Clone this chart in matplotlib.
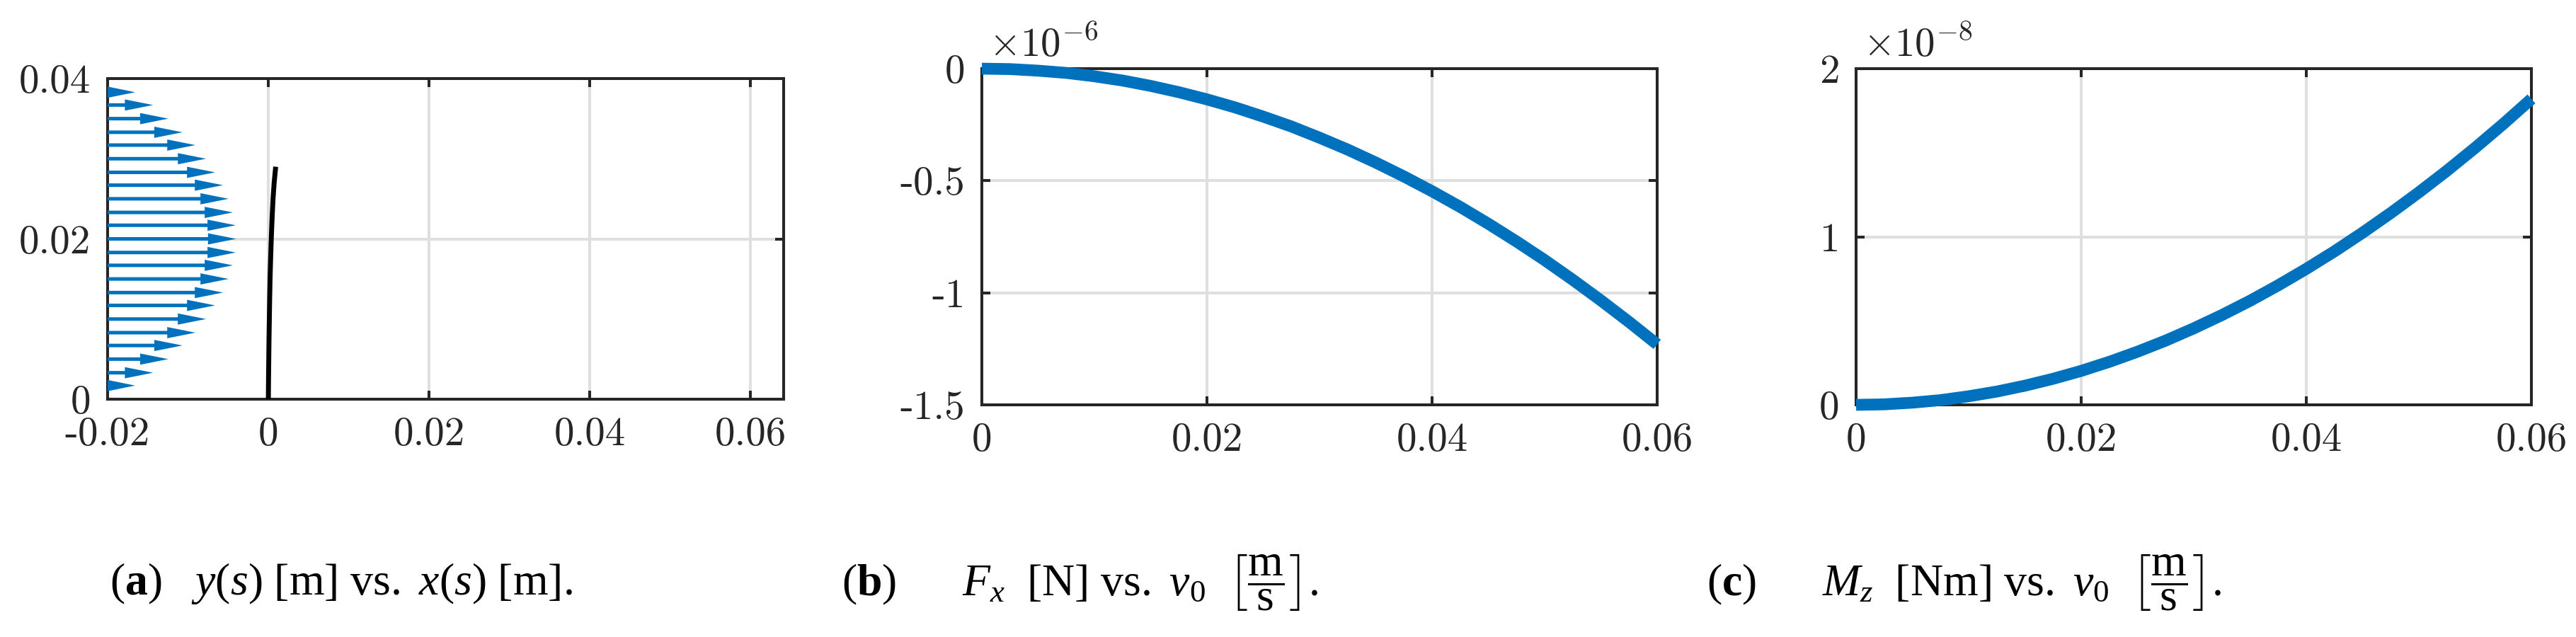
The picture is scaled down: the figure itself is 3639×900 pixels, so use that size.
import matplotlib
matplotlib.use("Agg")
import matplotlib.pyplot as plt

# ------------------ SETTINGS ------------------
W, H = 3639, 900
BLUE = "#0072BD"
GRID = "#dfdfdf"
AXC = "#262626"
TICK_FS = 41
CAP_FS = 46

plt.rcParams["mathtext.fontset"] = "cm"
plt.rcParams["mathtext.rm"] = "Liberation Serif"
plt.rcParams["mathtext.it"] = "Liberation Serif:italic"
plt.rcParams["mathtext.bf"] = "Liberation Serif:bold"
plt.rcParams["axes.unicode_minus"] = False

# ------------------ DATA ------------------
# (a) inflow profile arrows + deflected beam
arrow_y = [0.0017, 0.0033, 0.0050, 0.0067, 0.0083, 0.0100, 0.0117, 0.0133,
           0.0150, 0.0167, 0.0183, 0.0200, 0.0217, 0.0233, 0.0250, 0.0267,
           0.0283, 0.0300, 0.0317, 0.0333, 0.0350, 0.0367, 0.0383]
arrow_u = [0.00343, 0.00565, 0.00755, 0.00931, 0.01092, 0.01224, 0.01338, 0.01435,
           0.01505, 0.01558, 0.01593, 0.01599, 0.01593, 0.01558, 0.01505, 0.01435,
           0.01338, 0.01224, 0.01092, 0.00931, 0.00755, 0.00565, 0.00343]
arrow_x0 = -0.02

beam_x = [0, 0.00002, 0.00005, 0.00008, 0.00012, 0.00016, 0.00021, 0.00028,
          0.00036, 0.00046, 0.00058, 0.00072, 0.00091]
beam_y = [0, 0.0025, 0.005, 0.0075, 0.010, 0.0125, 0.015, 0.0175,
          0.020, 0.0225, 0.025, 0.027, 0.029]

# (b) Fx [1e-6 N] vs v0
v0 = [0, 0.0025, 0.005, 0.0075, 0.010, 0.0125, 0.015, 0.0175, 0.020, 0.0225,
      0.025, 0.0275, 0.030, 0.0325, 0.035, 0.0375, 0.040, 0.0425, 0.045, 0.0475,
      0.050, 0.0525, 0.055, 0.0575, 0.060]
Fx = [0, -0.002, -0.009, -0.019, -0.034, -0.053, -0.077, -0.105, -0.137, -0.173,
      -0.214, -0.258, -0.308, -0.361, -0.419, -0.481, -0.547, -0.617, -0.692, -0.771,
      -0.854, -0.942, -1.034, -1.130, -1.230]

# (c) Mz [1e-8 Nm] vs v0
Mz = [0, 0.003, 0.013, 0.028, 0.051, 0.079, 0.114, 0.155, 0.202, 0.256,
      0.316, 0.382, 0.455, 0.534, 0.619, 0.711, 0.809, 0.913, 1.024, 1.141,
      1.264, 1.393, 1.529, 1.671, 1.820]

# tick labels
a_xticks = [-0.02, 0, 0.02, 0.04, 0.06]
a_xlabels = ["-0.02", "0", "0.02", "0.04", "0.06"]
a_yticks = [0, 0.02, 0.04]
a_ylabels = ["0", "0.02", "0.04"]
v_ticks = [0, 0.02, 0.04, 0.06]
v_labels = ["0", "0.02", "0.04", "0.06"]
b_yticks = [-1.5, -1, -0.5, 0]
b_ylabels = ["-1.5", "-1", "-0.5", "0"]
c_yticks = [0, 1, 2]
c_ylabels = ["0", "1", "2"]

captions = [
    r"$(\mathbf{a})\quad y(s)\ [\mathrm{m}]\ \mathrm{vs.}\ x(s)\ [\mathrm{m}].$",
    r"$(\mathbf{b})\qquad F_x\ \ [\mathrm{N}]\ \mathrm{vs.}\ v_0\ \ \left[\dfrac{\mathrm{m}}{\mathrm{s}}\right].$",
    r"$(\mathbf{c})\qquad M_z\ \ [\mathrm{Nm}]\ \mathrm{vs.}\ v_0\ \ \left[\dfrac{\mathrm{m}}{\mathrm{s}}\right].$",
]
caption_x = [482, 1526, 2775]


def box(l, r, t, b):
    return [l / W, 1 - b / H, (r - l) / W, (b - t) / H]


def style(ax, xt, xl, yt, yl):
    ax.set_xticks(xt)
    ax.set_xticklabels(xl, fontfamily="cmr10", fontsize=TICK_FS, color=AXC)
    ax.set_yticks(yt)
    ax.set_yticklabels(yl, fontfamily="cmr10", fontsize=TICK_FS, color=AXC)
    ax.tick_params(direction="in", length=8.5, width=2.9, top=True, right=True, color=AXC)
    ax.tick_params(axis="x", pad=18)
    ax.tick_params(axis="y", pad=17)
    for s in ax.spines.values():
        s.set_linewidth(2.9)
        s.set_color(AXC)
    ax.grid(True, color=GRID, linewidth=2.9)
    ax.set_axisbelow(True)


fig = plt.figure(figsize=(W / 100, H / 100), dpi=100)

# ------------------ PANEL A ------------------
ax_a = fig.add_axes(box(152, 1107, 111, 564))
ax_a.set_xlim(-0.02, 0.0641)
ax_a.set_ylim(0, 0.04)
for y, u in zip(arrow_y, arrow_u):
    ax_a.arrow(arrow_x0, y, u, 0, width=0.00044, head_width=0.0014,
               head_length=min(0.0035, u), length_includes_head=True,
               color=BLUE, lw=0, zorder=3)
ax_a.plot(beam_x, beam_y, color="black", lw=5, solid_capstyle="butt", zorder=4)
style(ax_a, a_xticks, a_xlabels, a_yticks, a_ylabels)

# ------------------ PANEL B ------------------
ax_b = fig.add_axes(box(1387, 2341, 97, 572))
ax_b.plot(v0, Fx, color=BLUE, lw=12, solid_capstyle="butt", clip_on=False, zorder=3)
ax_b.set_xlim(0, 0.06)
ax_b.set_ylim(-1.5, 0)
style(ax_b, v_ticks, v_labels, b_yticks, b_ylabels)
ax_b.text(0.01, 1.035, r"$\times10^{-6}$", transform=ax_b.transAxes, fontsize=TICK_FS,
          math_fontfamily="cm", color=AXC, va="baseline", ha="left")

# ------------------ PANEL C ------------------
ax_c = fig.add_axes(box(2622, 3576, 97, 572))
ax_c.plot(v0, Mz, color=BLUE, lw=12, solid_capstyle="butt", clip_on=False, zorder=3)
ax_c.set_xlim(0, 0.06)
ax_c.set_ylim(0, 2)
style(ax_c, v_ticks, v_labels, c_yticks, c_ylabels)
ax_c.text(0.01, 1.035, r"$\times10^{-8}$", transform=ax_c.transAxes, fontsize=TICK_FS,
          math_fontfamily="cm", color=AXC, va="baseline", ha="left")

# ------------------ CAPTIONS ------------------
for cx, cap in zip(caption_x, captions):
    fig.text(cx / W, 1 - 824 / H, cap, ha="center", va="center", fontsize=CAP_FS,
             math_fontfamily="custom", color="black")

fig.savefig("out.png", dpi=100)
